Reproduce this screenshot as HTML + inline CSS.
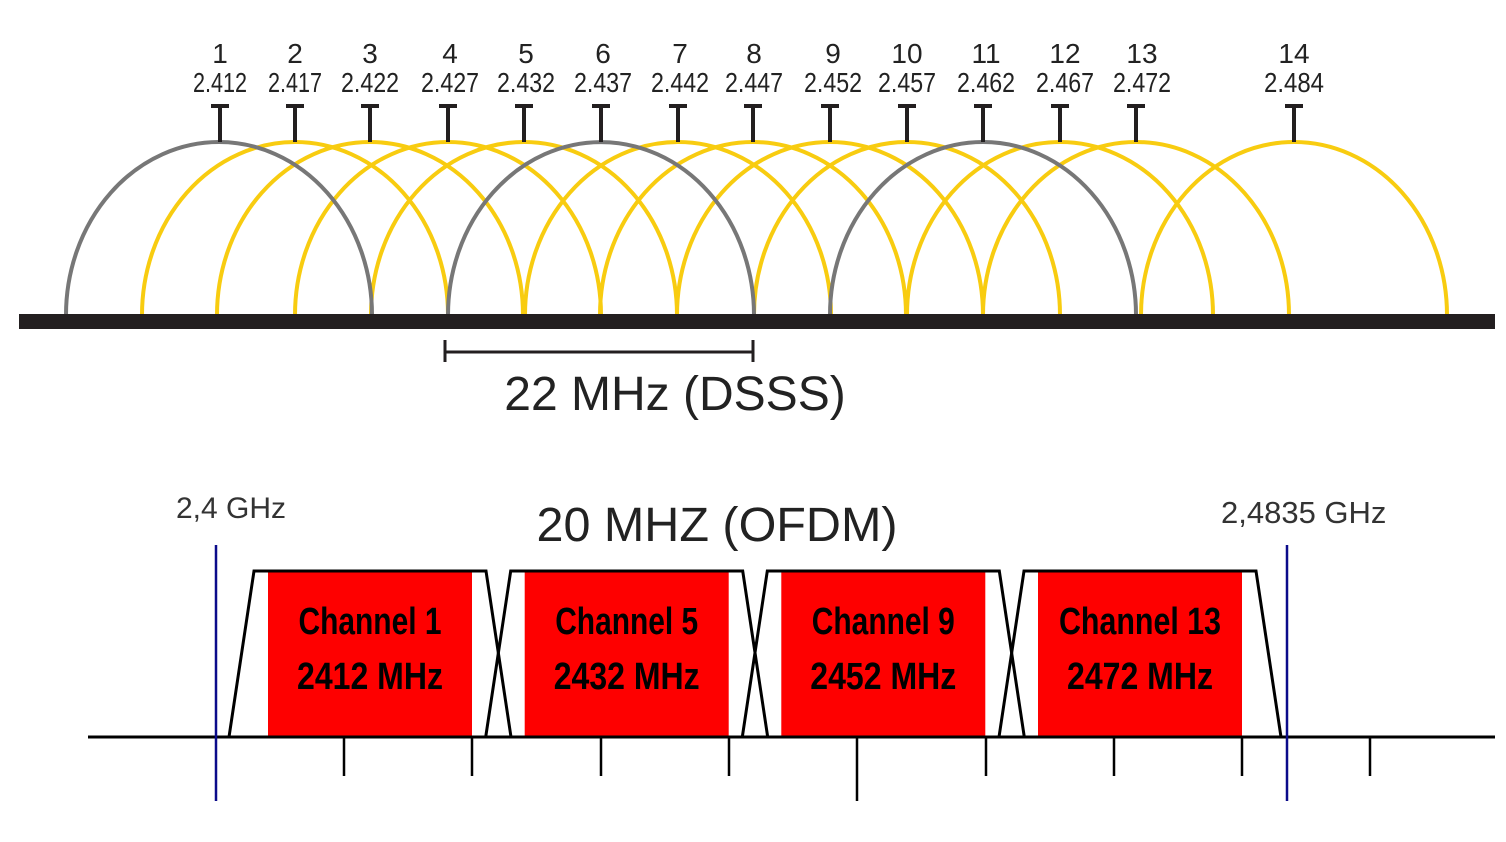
<!DOCTYPE html>
<html><head><meta charset="utf-8"><style>
html,body{margin:0;padding:0;background:#fff;width:1506px;height:842px;overflow:hidden}
svg{display:block}
.lbl{font-family:"Liberation Sans Narrow","Liberation Sans",sans-serif;font-size:28px;fill:#222;text-anchor:middle}
.ch{font-family:"Liberation Sans Narrow","Liberation Sans",sans-serif;font-weight:bold;font-size:38px;fill:#000;text-anchor:middle}
.big{font-family:"Liberation Sans",sans-serif;font-size:48px;fill:#222;text-anchor:middle}
.sm{font-family:"Liberation Sans",sans-serif;font-size:30px;fill:#333}
</style></head><body>
<svg width="1506" height="842" viewBox="0 0 1506 842" xmlns="http://www.w3.org/2000/svg">
<g fill="none" stroke-width="4">
<g stroke="#f8cc10">
<path d="M142,315 A153,173 0 0 1 448,315"/>
<path d="M217,315 A153,173 0 0 1 523,315"/>
<path d="M295,315 A153,173 0 0 1 601,315"/>
<path d="M371,315 A153,173 0 0 1 677,315"/>
<path d="M525,315 A153,173 0 0 1 831,315"/>
<path d="M600,315 A153,173 0 0 1 906,315"/>
<path d="M677,315 A153,173 0 0 1 983,315"/>
<path d="M754,315 A153,173 0 0 1 1060,315"/>
<path d="M907,315 A153,173 0 0 1 1213,315"/>
<path d="M983,315 A153,173 0 0 1 1289,315"/>
<path d="M1141,315 A153,173 0 0 1 1447,315"/>
</g>
<g stroke="#777">
<path d="M66,315 A153,173 0 0 1 372,315"/>
<path d="M448,315 A153,173 0 0 1 754,315"/>
<path d="M830,315 A153,173 0 0 1 1136,315"/>
</g>
</g>
<rect x="19" y="314" width="1476" height="15" fill="#231f20"/>
<g stroke="#231f20" stroke-width="4" fill="none">
<path d="M211,106h18M220,106v36"/>
<path d="M286,106h18M295,106v36"/>
<path d="M361,106h18M370,106v36"/>
<path d="M439,106h18M448,106v36"/>
<path d="M515,106h18M524,106v36"/>
<path d="M592,106h18M601,106v36"/>
<path d="M669,106h18M678,106v36"/>
<path d="M744,106h18M753,106v36"/>
<path d="M821,106h18M830,106v36"/>
<path d="M898,106h18M907,106v36"/>
<path d="M974,106h18M983,106v36"/>
<path d="M1051,106h18M1060,106v36"/>
<path d="M1127,106h18M1136,106v36"/>
<path d="M1285,106h18M1294,106v36"/>
</g>
<g>
<text class="lbl" x="220" y="63">1</text><text class="lbl" x="220" y="92" textLength="54" lengthAdjust="spacingAndGlyphs">2.412</text>
<text class="lbl" x="295" y="63">2</text><text class="lbl" x="295" y="92" textLength="54" lengthAdjust="spacingAndGlyphs">2.417</text>
<text class="lbl" x="370" y="63">3</text><text class="lbl" x="370" y="92" textLength="58" lengthAdjust="spacingAndGlyphs">2.422</text>
<text class="lbl" x="450" y="63">4</text><text class="lbl" x="450" y="92" textLength="58" lengthAdjust="spacingAndGlyphs">2.427</text>
<text class="lbl" x="526" y="63">5</text><text class="lbl" x="526" y="92" textLength="58" lengthAdjust="spacingAndGlyphs">2.432</text>
<text class="lbl" x="603" y="63">6</text><text class="lbl" x="603" y="92" textLength="58" lengthAdjust="spacingAndGlyphs">2.437</text>
<text class="lbl" x="680" y="63">7</text><text class="lbl" x="680" y="92" textLength="58" lengthAdjust="spacingAndGlyphs">2.442</text>
<text class="lbl" x="754" y="63">8</text><text class="lbl" x="754" y="92" textLength="58" lengthAdjust="spacingAndGlyphs">2.447</text>
<text class="lbl" x="833" y="63">9</text><text class="lbl" x="833" y="92" textLength="58" lengthAdjust="spacingAndGlyphs">2.452</text>
<text class="lbl" x="907" y="63">10</text><text class="lbl" x="907" y="92" textLength="58" lengthAdjust="spacingAndGlyphs">2.457</text>
<text class="lbl" x="986" y="63">11</text><text class="lbl" x="986" y="92" textLength="58" lengthAdjust="spacingAndGlyphs">2.462</text>
<text class="lbl" x="1065" y="63">12</text><text class="lbl" x="1065" y="92" textLength="58" lengthAdjust="spacingAndGlyphs">2.467</text>
<text class="lbl" x="1142" y="63">13</text><text class="lbl" x="1142" y="92" textLength="58" lengthAdjust="spacingAndGlyphs">2.472</text>
<text class="lbl" x="1294" y="63">14</text><text class="lbl" x="1294" y="92" textLength="60" lengthAdjust="spacingAndGlyphs">2.484</text>
</g>
<path d="M445,352H753M445,340v22M753,340v22" stroke="#231f20" stroke-width="3" fill="none"/>
<text class="big" x="675" y="410">22 MHz (DSSS)</text>
<text class="sm" x="176" y="518">2,4 GHz</text>
<text class="sm" x="1221" y="523" style="font-size:31px">2,4835 GHz</text>
<text class="big" x="717" y="541" style="font-size:48.5px">20 MHZ (OFDM)</text>
<g>
<g>
<rect x="268" y="572" width="204" height="165" fill="#fe0000"/>
<path d="M229,737L254,571H486L511,737" stroke="#000" stroke-width="3" fill="none"/>
<text class="ch" x="370" y="634" textLength="143" lengthAdjust="spacingAndGlyphs">Channel 1</text>
<text class="ch" x="370" y="689" textLength="146" lengthAdjust="spacingAndGlyphs">2412 MHz</text>
</g>
<g transform="translate(256.7,0)">
<rect x="268" y="572" width="204" height="165" fill="#fe0000"/>
<path d="M229,737L254,571H486L511,737" stroke="#000" stroke-width="3" fill="none"/>
<text class="ch" x="370" y="634" textLength="143" lengthAdjust="spacingAndGlyphs">Channel 5</text>
<text class="ch" x="370" y="689" textLength="146" lengthAdjust="spacingAndGlyphs">2432 MHz</text>
</g>
<g transform="translate(513.3,0)">
<rect x="268" y="572" width="204" height="165" fill="#fe0000"/>
<path d="M229,737L254,571H486L511,737" stroke="#000" stroke-width="3" fill="none"/>
<text class="ch" x="370" y="634" textLength="143" lengthAdjust="spacingAndGlyphs">Channel 9</text>
<text class="ch" x="370" y="689" textLength="146" lengthAdjust="spacingAndGlyphs">2452 MHz</text>
</g>
<g transform="translate(770,0)">
<rect x="268" y="572" width="204" height="165" fill="#fe0000"/>
<path d="M229,737L254,571H486L511,737" stroke="#000" stroke-width="3" fill="none"/>
<text class="ch" x="370" y="634" textLength="162" lengthAdjust="spacingAndGlyphs">Channel 13</text>
<text class="ch" x="370" y="689" textLength="146" lengthAdjust="spacingAndGlyphs">2472 MHz</text>
</g>
</g>
<path d="M88,737H1495" stroke="#000" stroke-width="3"/>
<g stroke="#000" stroke-width="2.5">
<path d="M344,737v39M472,737v39M601,737v39M729,737v39M857,737v64M986,737v39M1114,737v39M1242,737v39M1370,737v39"/>
</g>
<g stroke="#0b0b8a" stroke-width="2.5">
<path d="M216,545V801M1287,545V801"/>
</g>
</svg>
</body></html>
